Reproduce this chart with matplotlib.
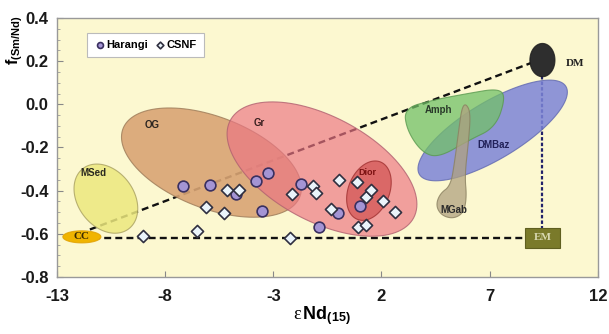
import numpy as np
import matplotlib
matplotlib.use('Agg')
import matplotlib.pyplot as plt
from matplotlib.patches import Polygon, Rectangle
from matplotlib.colors import to_rgba
from matplotlib.ticker import MultipleLocator

plt.rcParams['font.family'] = ['Liberation Sans', 'DejaVu Sans']
plt.rcParams['mathtext.fontset'] = 'custom'
plt.rcParams['mathtext.rm'] = 'Liberation Serif'
plt.rcParams['mathtext.it'] = 'Liberation Serif:italic'
plt.rcParams['mathtext.bf'] = 'Liberation Sans:bold'
plt.rcParams['lines.scale_dashes'] = False

# Data
harangi_x = [-7.18, -5.95, -4.72, -3.80, -3.26, -3.54, -1.70, 0.0, -0.88, 1.0]
harangi_y = [-0.377, -0.372, -0.415, -0.357, -0.32, -0.493, -0.371, -0.502, -0.567, -0.471]

csnf_x = [-9.02, -6.53, -6.10, -5.30, -5.15, -4.60, -2.23, -2.14, -1.16, -1.03,
          -0.33, 0.04, 0.88, 1.27, 1.52, 2.08, 2.61, 0.92, 1.30]
csnf_y = [-0.61, -0.586, -0.478, -0.502, -0.397, -0.397, -0.62, -0.415, -0.377, -0.41,
          -0.484, -0.349, -0.361, -0.431, -0.397, -0.45, -0.498, -0.567, -0.558]

# fields as ellipses: centre x, centre y, half axes (in eNd units), tilt (deg, as seen)
og_field = [-5.86, -0.27, 4.38, 2.12, -21]
gr_field = [-0.75, -0.300, 4.80, 2.42, -28]
dior_field = [1.42, -0.40, 1.43, 0.95, 68]
msed_field = [-10.74, -0.437, 1.75, 1.29, -53]
dmbaz_field = [7.14, -0.121, 3.95, 1.32, 31]
cc_field = [-11.85, -0.614, 0.88, 0.28, 0]
dm_field = [9.44, 0.205, 0.58, 0.77, 0]
em_box = [9.44, -0.619, 1.61, 0.093]

amph_x = [3.04, 4.33, 6.03, 7.41, 7.74, 7.28, 6.03, 4.65, 3.87, 3.18]
amph_y = [-0.019, 0.019, 0.051, 0.074, 0.033, -0.107, -0.167, -0.247, -0.223, -0.121]

mgab_x = [5.89, 6.12, 6.03, 5.85, 5.94, 5.80, 5.34, 4.79, 4.51, 4.70, 5.20, 5.39, 5.57, 5.71]
mgab_y = [0.005, -0.037, -0.167, -0.330, -0.428, -0.502, -0.530, -0.516, -0.470, -0.414,
          -0.377, -0.260, -0.121, -0.019]

# mixing lines
cc_dm_x = [-11.48, 8.98]
cc_dm_y = [-0.580, 0.194]
cc_em_x = [-11.85, 9.44]
cc_em_y = [-0.619, -0.619]
dm_em_x = [9.44, 9.44]
dm_em_y = [0.13, -0.58]

xticks = [-13, -8, -3, 2, 7, 12]
yticks = [-0.8, -0.6, -0.4, -0.2, 0.0, 0.2, 0.4]
ytick_labels = ['-0.8', '-0.6', '-0.4', '-0.2', '0.0', '0.2', '0.4']

fig = plt.figure(figsize=(6.09, 3.34), dpi=100)
ax = fig.add_axes([0.0936, 0.1707, 0.888, 0.7754])
ax.set_xlim(-13, 12)
ax.set_ylim(-0.8, 0.4)
ax.set_facecolor('#fcf8d0')

# ratio of screen scale y / x so the ellipses are tilted as they look
pos = ax.get_position()
k = (pos.height * 334 / 1.2) / (pos.width * 609 / 25)


def ellipse_pts(f):
    cx, cy, a, b, ang = f
    t = np.linspace(0, 2 * np.pi, 120)
    u, v = a * np.cos(t), b * np.sin(t)
    th = np.radians(ang)
    dx = u * np.cos(th) - v * np.sin(th)
    dy = u * np.sin(th) + v * np.cos(th)
    return np.column_stack([cx + dx, cy + dy / k])


def smooth(xs, ys, n=4):
    p = np.column_stack([xs, ys])
    for _ in range(n):
        q = np.roll(p, -1, axis=0)
        new = np.empty((2 * len(p), 2))
        new[0::2] = 0.75 * p + 0.25 * q
        new[1::2] = 0.25 * p + 0.75 * q
        p = new
    return p


def field(pts, fc, ec, alpha, z):
    ax.add_patch(Polygon(pts, closed=True, facecolor=to_rgba(fc, alpha),
                         edgecolor=to_rgba(ec, 0.8), lw=0.8, zorder=z))


# dashed lines under the fields
ax.plot(cc_dm_x, cc_dm_y, color='#111111', lw=1.7, dashes=(5, 3), zorder=1)
ax.plot(cc_em_x, cc_em_y, color='#111111', lw=1.7, dashes=(5, 3), zorder=1)
ax.plot(dm_em_x, dm_em_y, color='#22226a', lw=1.6, dashes=(2.5, 1.5), zorder=1)

field(ellipse_pts(og_field), '#d9a474', '#9c7a58', 0.9, 2)
field(ellipse_pts(msed_field), '#ece87e', '#a8a060', 0.85, 2)
field(ellipse_pts(gr_field), '#ec7584', '#b06070', 0.68, 3)
field(ellipse_pts(dior_field), '#c83c3c', '#a03030', 0.55, 4)
field(ellipse_pts(dmbaz_field), '#7c84d8', '#6068b0', 0.85, 3)
field(smooth(amph_x, amph_y), '#72c068', '#5a9a50', 0.75, 4)
field(smooth(mgab_x, mgab_y, 3), '#b0a280', '#8a8060', 0.75, 5)
field(ellipse_pts(cc_field), '#f0b400', '#e0a000', 1.0, 6)
field(ellipse_pts(dm_field), '#2e2e2e', '#1a1a1a', 1.0, 6)
ax.add_patch(Rectangle((em_box[0] - em_box[2] / 2, em_box[1] - em_box[3] / 2), em_box[2], em_box[3],
                       facecolor='#7a7a2a', edgecolor='#5f5f20', lw=0.8, zorder=6))

ax.scatter(harangi_x, harangi_y, s=60, marker='o', facecolor='#a494d4', edgecolor='#3a3060',
           lw=1.2, zorder=7, label='Harangi')
ax.scatter(csnf_x, csnf_y, s=38, marker='D', facecolor='#eaf4fa', edgecolor='#303040',
           lw=1.2, zorder=7, label='CSNF')

# field labels
lab = dict(fontsize=7, fontweight='bold', ha='center', va='center', zorder=8)
ax.text(-8.62, -0.098, 'OG', color='#2a2420', **lab)
ax.text(-3.65, -0.088, 'Gr', color='#3a2020', **lab)
ax.text(-11.34, -0.316, 'MSed', color='#2a2a20', **lab)
ax.text(1.33, -0.316, 'Dior', color='#7a1010', fontsize=6.5, fontweight='bold', ha='center',
        va='center', zorder=8)
ax.text(4.65, -0.028, 'Amph', color='#2a3a2a', **lab)
ax.text(7.18, -0.19, 'DMBaz', color='#22225a', **lab)
ax.text(5.34, -0.488, 'MGab', color='#2a2a2a', **lab)
serif = dict(fontsize=8, fontweight='bold', family='Liberation Serif', ha='center', va='center', zorder=8)
ax.text(-11.85, -0.614, 'CC', color='#3a2a00', **serif)
ax.text(10.95, 0.19, 'DM', color='#222222', **serif)
ax.text(9.44, -0.619, 'EM', color='#d8d8b0', **serif)

leg = ax.legend(loc='upper left', bbox_to_anchor=(0.055, 0.942), borderaxespad=0, ncol=2,
                handletextpad=0.1, columnspacing=0.6, handlelength=1.0, markerscale=0.55,
                fancybox=False, edgecolor='#bbbbbb', framealpha=1,
                prop={'weight': 'bold', 'size': 8}, borderpad=0.65)
leg.get_frame().set_linewidth(0.8)

ax.set_xticks(xticks)
ax.set_xticklabels([str(v) for v in xticks], fontweight='bold')
ax.set_yticks(yticks)
ax.set_yticklabels(ytick_labels, fontweight='bold')
ax.yaxis.set_minor_locator(MultipleLocator(0.05))
ax.tick_params(axis='both', which='major', direction='in', length=4, width=0.8,
               color='#888888', labelsize=12, labelcolor='#1a1a1a')
ax.tick_params(axis='x', pad=9)
ax.tick_params(axis='y', pad=6)
ax.tick_params(axis='y', which='minor', direction='in', length=2, width=0.6, color='#999999')
for s in ax.spines.values():
    s.set_color('#999999')
    s.set_linewidth(1.0)

ax.set_xlabel(r'$\mathrm{\varepsilon}\,\mathbf{Nd}_{\mathbf{(15)}}$', fontsize=13)
ax.xaxis.set_label_coords(0.49, -0.105)
ax.set_ylabel(r'$\mathbf{f}_{\mathbf{(Sm/Nd)}}$', fontsize=11.5)
ax.yaxis.set_label_coords(-0.06, 0.915)

fig.savefig('out.png', dpi=100)
